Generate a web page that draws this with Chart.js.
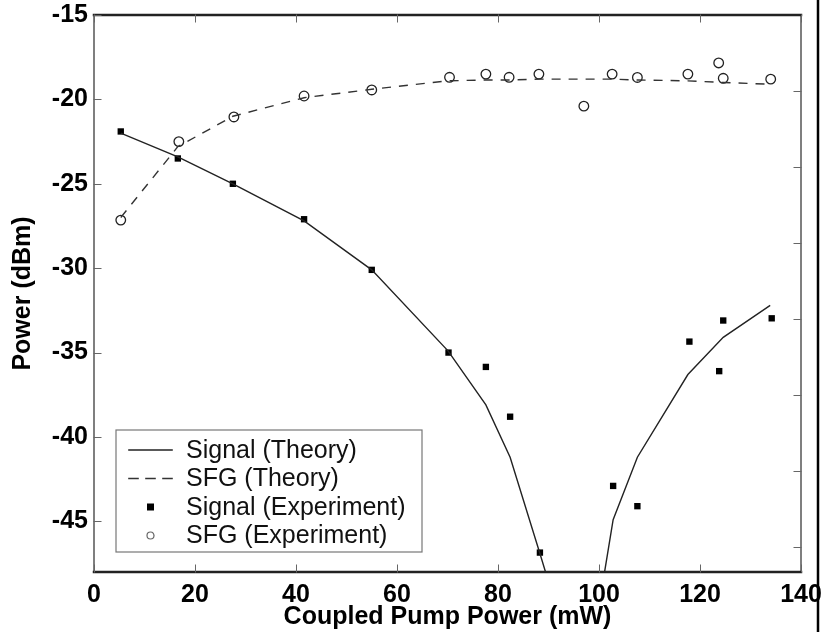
<!DOCTYPE html>
<html>
<head>
<meta charset="utf-8">
<script src="https://cdn.jsdelivr.net/npm/chart.js@4.4.1/dist/chart.umd.min.js"></script>
<style>
  html, body { margin: 0; padding: 0; background: #fff; }
  #wrap { width: 823px; height: 632px; }
</style>
</head>
<body>
<div id="wrap"><canvas id="chart" width="823" height="632"></canvas></div>
<script>
// Data
const theoryX = [5.3, 16.6, 27.5, 41.6, 55.0, 70.1, 77.6, 82.4, 88.3, 97.0, 102.8, 107.6, 117.6, 124.6, 133.9];
const signalTheory = [-22.0, -23.4, -25.0, -27.2, -30.1, -34.9, -38.1, -41.2, -46.9, -55.5, -44.9, -41.2, -36.3, -34.1, -32.2];
const sfgTheory = [-27.0, -22.8, -21.0, -19.9, -19.4, -18.9, -18.85, -18.85, -18.8, -18.8, -18.8, -18.85, -18.9, -19.0, -19.1];

const signalExpX = [5.3, 16.6, 27.5, 41.6, 55.0, 70.2, 77.6, 82.4, 88.3, 102.8, 107.6, 117.9, 123.8, 124.6, 134.2];
const signalExpY = [-21.9, -23.5, -25.0, -27.1, -30.1, -35.0, -35.85, -38.8, -46.85, -42.9, -44.1, -34.35, -36.1, -33.1, -32.97];

const sfgExpX = [5.3, 16.8, 27.7, 41.6, 55.0, 70.4, 77.6, 82.2, 88.1, 97.0, 102.6, 107.6, 117.6, 123.7, 124.6, 134.0];
const sfgExpY = [-27.15, -22.5, -21.04, -19.8, -19.44, -18.69, -18.5, -18.69, -18.5, -20.4, -18.5, -18.7, -18.5, -17.84, -18.75, -18.8];

const xTicks = [0, 20, 40, 60, 80, 100, 120, 140];
const yTicks = [-15, -20, -25, -30, -35, -40, -45];
const rightTicks = [-19.5, -24, -28.5, -33, -37.5, -42, -46.5];

const FONT = "'Liberation Sans', Arial, Helvetica, sans-serif";

function pts(xs, ys) {
  return xs.map((x, i) => ({ x: x, y: ys[i] }));
}

function noPad(s) {
  s.paddingTop = 0;
  s.paddingBottom = 0;
  s.paddingLeft = 0;
  s.paddingRight = 0;
}

// frame, inward ticks, legend box
const framePlugin = {
  id: 'frame',
  afterDraw(chart) {
    const ctx = chart.ctx;
    const a = chart.chartArea;
    const xs = chart.scales.x;
    const ys = chart.scales.y;
    ctx.save();

    // axes box
    ctx.lineCap = 'square';
    ctx.strokeStyle = '#555';
    ctx.lineWidth = 1.5;
    ctx.beginPath();
    ctx.moveTo(a.left, a.top); ctx.lineTo(a.left, a.bottom);
    ctx.moveTo(a.right, a.top); ctx.lineTo(a.right, a.bottom);
    ctx.stroke();
    ctx.strokeStyle = '#222';
    ctx.lineWidth = 2.5;
    ctx.beginPath();
    ctx.moveTo(a.left, a.bottom); ctx.lineTo(a.right, a.bottom);
    ctx.moveTo(a.left, a.top); ctx.lineTo(a.right, a.top);
    ctx.stroke();

    // inward ticks
    ctx.strokeStyle = '#666';
    ctx.lineWidth = 1;
    ctx.beginPath();
    xTicks.forEach(v => {
      const px = Math.round(xs.getPixelForValue(v)) + 0.5;
      ctx.moveTo(px, a.bottom); ctx.lineTo(px, a.bottom - 7);
      ctx.moveTo(px, a.top); ctx.lineTo(px, a.top + 7);
    });
    yTicks.forEach(v => {
      const py = Math.round(ys.getPixelForValue(v)) + 0.5;
      ctx.moveTo(a.left, py); ctx.lineTo(a.left + 7, py);
    });
    rightTicks.forEach(v => {
      const py = Math.round(ys.getPixelForValue(v)) + 0.5;
      ctx.moveTo(a.right, py); ctx.lineTo(a.right - 7, py);
    });
    ctx.stroke();

    // right edge of the scanned figure
    ctx.strokeStyle = '#000';
    ctx.lineWidth = 2.5;
    ctx.beginPath();
    ctx.moveTo(818, 0); ctx.lineTo(818, chart.height);
    ctx.stroke();

    // legend
    const bx = a.left + 22, by = a.top + 415, bw = 306, bh = 122;
    ctx.fillStyle = '#fff';
    ctx.fillRect(bx, by, bw, bh);
    ctx.strokeStyle = '#777';
    ctx.lineWidth = 1.2;
    ctx.strokeRect(bx, by, bw, bh);

    ctx.font = '25px ' + FONT;
    ctx.textBaseline = 'middle';
    ctx.textAlign = 'left';
    chart.data.datasets.forEach((ds, i) => {
      const cy = by + 20 + i * 28.5;
      const sx = bx + 13, ex = bx + 56, mx = (sx + ex) / 2;
      if (ds.showLine) {
        ctx.strokeStyle = ds.borderColor;
        ctx.lineWidth = 1.6;
        ctx.setLineDash(ds.borderDash || []);
        ctx.beginPath();
        ctx.moveTo(sx, cy); ctx.lineTo(ex, cy);
        ctx.stroke();
        ctx.setLineDash([]);
      } else if (ds.pointStyle === 'rect') {
        ctx.fillStyle = '#000';
        ctx.fillRect(mx - 3.5, cy - 3.5, 7, 7);
      } else {
        ctx.strokeStyle = '#666';
        ctx.lineWidth = 1.2;
        ctx.beginPath();
        ctx.arc(mx, cy, 3.5, 0, Math.PI * 2);
        ctx.stroke();
      }
      ctx.fillStyle = '#111';
      ctx.fillText(ds.label, bx + 70, cy + 1);
    });
    ctx.restore();
  }
};

new Chart(document.getElementById('chart'), {
  type: 'scatter',
  data: {
    datasets: [
      {
        label: 'Signal (Theory)',
        data: pts(theoryX, signalTheory),
        showLine: true,
        borderColor: '#222',
        borderWidth: 1.4,
        pointRadius: 0,
        fill: false
      },
      {
        label: 'SFG (Theory)',
        data: pts(theoryX, sfgTheory),
        showLine: true,
        borderColor: '#333',
        borderWidth: 1.4,
        borderDash: [9, 8],
        pointRadius: 0,
        fill: false
      },
      {
        label: 'Signal (Experiment)',
        data: pts(signalExpX, signalExpY),
        showLine: false,
        pointStyle: 'rect',
        pointRadius: 4.5,
        backgroundColor: '#000',
        borderColor: '#000',
        borderWidth: 0
      },
      {
        label: 'SFG (Experiment)',
        data: pts(sfgExpX, sfgExpY),
        showLine: false,
        pointStyle: 'circle',
        pointRadius: 4.8,
        backgroundColor: 'rgba(255,255,255,0)',
        borderColor: '#222',
        borderWidth: 1.3
      }
    ]
  },
  options: {
    responsive: false,
    animation: false,
    layout: { padding: { top: 15, right: 22, left: 0, bottom: 0 } },
    plugins: {
      legend: { display: false },
      tooltip: { enabled: false }
    },
    scales: {
      x: {
        type: 'linear',
        min: 0,
        max: 140,
        grid: { display: false, drawTicks: false },
        border: { display: false },
        afterBuildTicks: s => { s.ticks = xTicks.map(v => ({ value: v })); },
        afterFit: s => { s.height = 60; noPad(s); },
        ticks: {
          color: '#000',
          padding: 8,
          maxRotation: 0,
          font: { family: FONT, size: 25, weight: 'bold' }
        },
        title: {
          display: true,
          text: 'Coupled Pump Power (mW)',
          color: '#000',
          padding: { top: 0, bottom: 0 },
          font: { family: FONT, size: 25, weight: 'bold' }
        }
      },
      y: {
        type: 'linear',
        min: -48,
        max: -15,
        grid: { display: false, drawTicks: false },
        border: { display: false },
        afterBuildTicks: s => { s.ticks = yTicks.map(v => ({ value: v })); },
        afterFit: s => { s.width = 94; noPad(s); },
        ticks: {
          color: '#000',
          padding: 6,
          font: { family: FONT, size: 25, weight: 'bold' }
        },
        title: {
          display: true,
          text: 'Power (dBm)',
          color: '#000',
          padding: { top: 8, bottom: 0 },
          font: { family: FONT, size: 25, weight: 'bold' }
        }
      }
    }
  },
  plugins: [framePlugin]
});
</script>
</body>
</html>
